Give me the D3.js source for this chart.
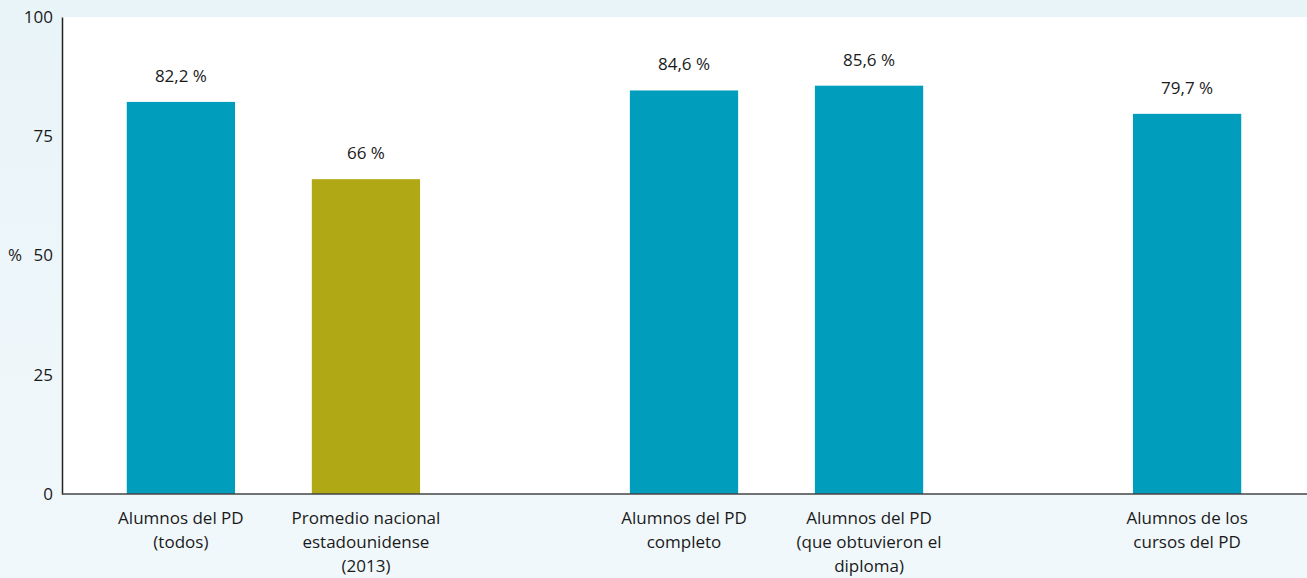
<!DOCTYPE html>
<html><head><meta charset="utf-8">
<script src="https://cdn.jsdelivr.net/npm/d3@7"></script>
<style>
html,body{margin:0;padding:0;}
body{width:1307px;height:578px;overflow:hidden;}
text{font-family:"Open Sans",sans-serif;fill:#1a1a1a;}
</style></head>
<body><svg id="c" width="1307" height="578"></svg>
<script>
const categories = [
  ["Alumnos del PD","(todos)"],
  ["Promedio nacional","estadounidense","(2013)"],
  ["Alumnos del PD","completo"],
  ["Alumnos del PD","(que obtuvieron el","diploma)"],
  ["Alumnos de los","cursos del PD"]
];
const values = [82.2, 66, 84.6, 85.6, 79.7];
const valueLabels = ["82,2 %","66 %","84,6 %","85,6 %","79,7 %"];
const groups = [0, 0, 1, 1, 2];
const seriesKind = ["ib","us","ib","ib","ib"];
const yTicks = [0, 25, 50, 75, 100];
const yTitle = "%";

const W = 1307, H = 578;
const m = {left:62, top:17, bottom:84};
const groupGap = 133;
const fs = 17;
const svg = d3.select("#c");
const defs = svg.append("defs");
const g = defs.append("linearGradient").attr("id","bg").attr("x1",0).attr("y1",0).attr("x2",0).attr("y2",1);
g.append("stop").attr("offset","0%").attr("stop-color","#e9f4f8");
g.append("stop").attr("offset","100%").attr("stop-color","#f1f8fb");
svg.append("rect").attr("width",W).attr("height",H).attr("fill","url(#bg)");

const y = d3.scaleLinear().domain([0,100]).range([H-m.bottom, m.top]);
const idx = d3.range(values.length);
const x = d3.scaleBand().domain(idx).range([m.left, W - 1 - groupGap*2]).paddingInner(0.415).paddingOuter(0.35);
const xPos = i => x(i) + groups[i]*groupGap;

svg.append("rect").attr("x",m.left).attr("y",m.top).attr("width",W-m.left).attr("height",y(0)-m.top).attr("fill","#ffffff");

const color = {ib:"#009dbd", us:"#b0a815"};
svg.selectAll("rect.bar").data(idx).join("rect").attr("class","bar")
  .attr("x",i=>xPos(i)).attr("width",x.bandwidth())
  .attr("y",i=>y(values[i])).attr("height",i=>y(0)-y(values[i]))
  .attr("fill",i=>color[seriesKind[i]]);

svg.selectAll("text.val").data(idx).join("text").attr("class","val")
  .attr("x",i=>xPos(i)+x.bandwidth()/2).attr("y",i=>y(values[i])-20)
  .attr("text-anchor","middle").attr("font-size",fs).text(i=>valueLabels[i]);

// y axis
const ya = svg.append("g").attr("transform",`translate(${m.left},0)`)
  .call(d3.axisLeft(y).tickValues(yTicks).tickSize(0).tickPadding(9).tickFormat(d3.format("d")));
ya.select(".domain").attr("stroke","#222").attr("stroke-width",1.5);
ya.selectAll("text").attr("font-size",fs).attr("font-family","Open Sans").attr("fill","#1a1a1a");
svg.append("text").attr("x",15).attr("y",y(50)).attr("dy","0.32em").attr("text-anchor","middle").attr("font-size",fs).text(yTitle);

// x axis line
svg.append("line").attr("x1",m.left).attr("x2",W).attr("y1",y(0)).attr("y2",y(0)).attr("stroke","#444").attr("stroke-width",1.5);

// category labels
const cl = svg.selectAll("text.cat").data(idx).join("text").attr("class","cat")
  .attr("text-anchor","middle").attr("font-size",fs);
cl.each(function(i){
  const t = d3.select(this);
  categories[i].forEach((line,k)=>{
    t.append("tspan").attr("x",xPos(i)+x.bandwidth()/2).attr("y",y(0)+30+k*24).text(line);
  });
});
</script></body></html>
